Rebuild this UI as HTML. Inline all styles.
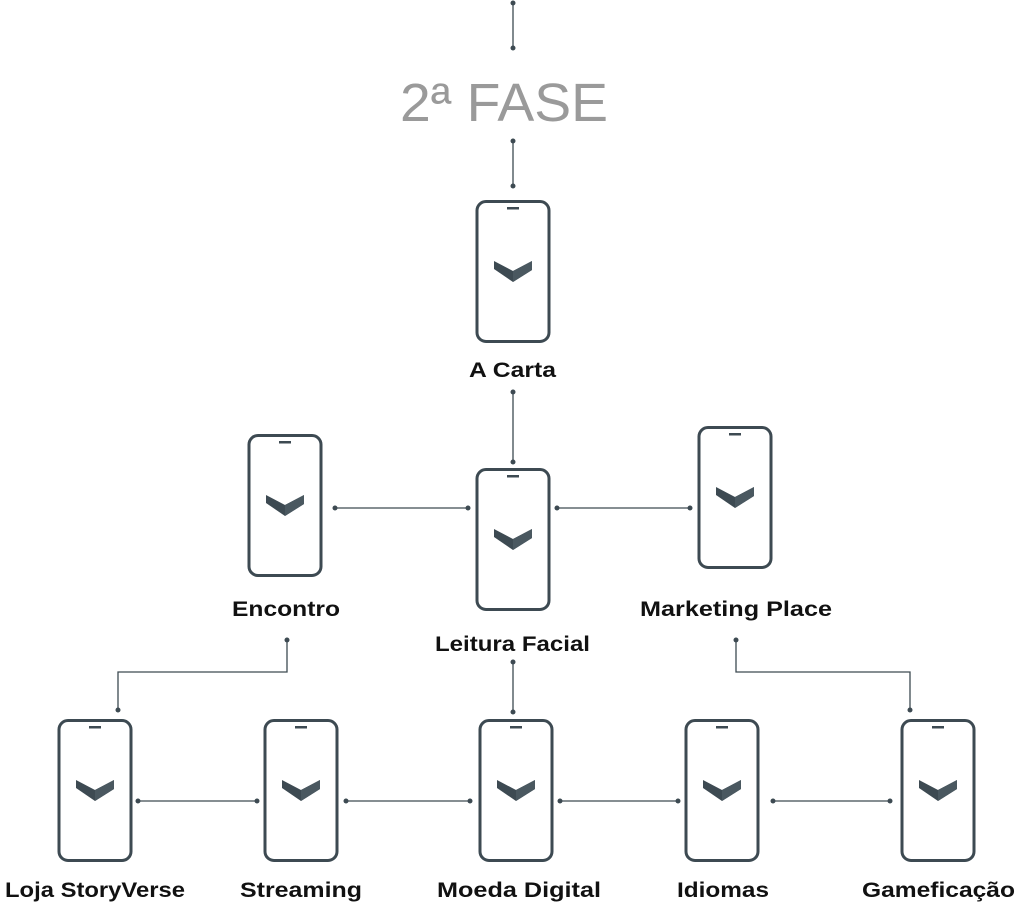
<!DOCTYPE html>
<html><head><meta charset="utf-8"><style>
body{margin:0;background:#fff;width:1024px;height:904px;overflow:hidden}
</style></head><body>
<svg width="1024" height="904" viewBox="0 0 1024 904" xmlns="http://www.w3.org/2000/svg">
<defs>
<g id="ph">
<rect x="-36" y="1.5" width="72" height="140" rx="9" fill="#fff" stroke="#3d4a52" stroke-width="3"/>
<rect x="-6" y="7" width="12" height="2.5" fill="#3d4a52"/>
<polygon points="-19,61 0,71 19,61 19,70 0,82 -19,69" fill="#3d4a52"/>
<polygon points="0,71 19,61 19,70 0,82" fill="#4a5860"/>
</g>
</defs>
<g stroke="#3d4a52" stroke-width="1.3" fill="none">
<line x1="513" y1="3" x2="513" y2="48"/>
<line x1="513" y1="141" x2="513" y2="186"/>
<line x1="513" y1="392" x2="513" y2="462"/>
<line x1="335" y1="508" x2="468" y2="508"/>
<line x1="557" y1="508" x2="690" y2="508"/>
<polyline points="287,640 287,672 118,672 118,710"/>
<polyline points="736,640 736,672 910,672 910,710"/>
<line x1="513" y1="662" x2="513" y2="712"/>
<line x1="138" y1="801" x2="257" y2="801"/>
<line x1="346" y1="801" x2="470" y2="801"/>
<line x1="560" y1="801" x2="678" y2="801"/>
<line x1="773" y1="801" x2="890" y2="801"/>
</g>
<g fill="#3d4a52">
<circle cx="513" cy="3" r="2.5"/><circle cx="513" cy="48" r="2.5"/>
<circle cx="513" cy="141" r="2.5"/><circle cx="513" cy="186" r="2.5"/>
<circle cx="513" cy="392" r="2.5"/><circle cx="513" cy="462" r="2.5"/>
<circle cx="335" cy="508" r="2.5"/><circle cx="468" cy="508" r="2.5"/>
<circle cx="557" cy="508" r="2.5"/><circle cx="690" cy="508" r="2.5"/>
<circle cx="287" cy="640" r="2.5"/><circle cx="118" cy="710" r="2.5"/>
<circle cx="736" cy="640" r="2.5"/><circle cx="910" cy="710" r="2.5"/>
<circle cx="513" cy="662" r="2.5"/><circle cx="513" cy="712" r="2.5"/>
<circle cx="138" cy="801" r="2.5"/><circle cx="257" cy="801" r="2.5"/>
<circle cx="346" cy="801" r="2.5"/><circle cx="470" cy="801" r="2.5"/>
<circle cx="560" cy="801" r="2.5"/><circle cx="678" cy="801" r="2.5"/>
<circle cx="773" cy="801" r="2.5"/><circle cx="890" cy="801" r="2.5"/>
</g>
<text x="400" y="121" textLength="208" lengthAdjust="spacingAndGlyphs" font-family="Liberation Sans, sans-serif" font-size="54" fill="#9a9a9a">2ª FASE</text>
<use href="#ph" x="513" y="200"/>
<use href="#ph" x="285" y="434"/>
<use href="#ph" x="513" y="468"/>
<use href="#ph" x="735" y="426"/>
<use href="#ph" x="95" y="719"/>
<use href="#ph" x="301" y="719"/>
<use href="#ph" x="516" y="719"/>
<use href="#ph" x="722" y="719"/>
<use href="#ph" x="938" y="719"/>
<g font-family="Liberation Sans, sans-serif" font-size="21" font-weight="bold" fill="#111" lengthAdjust="spacingAndGlyphs">
<text x="469" y="377" textLength="87" lengthAdjust="spacingAndGlyphs">A Carta</text>
<text x="232" y="616" textLength="108" lengthAdjust="spacingAndGlyphs">Encontro</text>
<text x="435" y="651" textLength="155" lengthAdjust="spacingAndGlyphs">Leitura Facial</text>
<text x="640" y="616" textLength="192" lengthAdjust="spacingAndGlyphs">Marketing Place</text>
<text x="5" y="897" textLength="180" lengthAdjust="spacingAndGlyphs">Loja StoryVerse</text>
<text x="240" y="897" textLength="122" lengthAdjust="spacingAndGlyphs">Streaming</text>
<text x="437" y="897" textLength="164" lengthAdjust="spacingAndGlyphs">Moeda Digital</text>
<text x="677" y="897" textLength="92" lengthAdjust="spacingAndGlyphs">Idiomas</text>
<text x="862" y="897" textLength="153" lengthAdjust="spacingAndGlyphs">Gameficação</text>
</g>
</svg>
</body></html>
